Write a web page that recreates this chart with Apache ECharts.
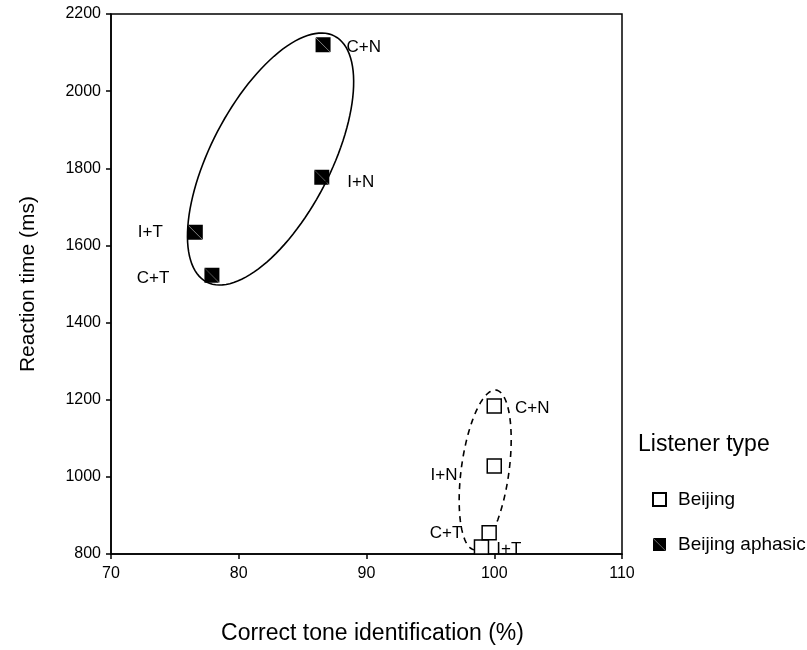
<!DOCTYPE html>
<html>
<head>
<meta charset="utf-8">
<script src="https://cdn.jsdelivr.net/npm/echarts@6/dist/echarts.min.js"></script>
<style>
  html, body { margin: 0; padding: 0; background: #fff; }
  #chart { width: 807px; height: 650px; }
</style>
</head>
<body>
<div id="chart"></div>
<script>
// Tone identification accuracy (%) vs reaction time (ms) per condition
var conditions = ['C+N', 'I+N', 'I+T', 'C+T'];

var beijingAccuracy = [100, 100, 99.0, 99.6];
var beijingRT       = [1184, 1028, 818, 855];

var aphasicAccuracy = [86.6, 86.5, 76.6, 77.9];
var aphasicRT       = [2120, 1777, 1634, 1523];

var xTicks = [70, 80, 90, 100, 110];
var yTicks = [800, 1000, 1200, 1400, 1600, 1800, 2000, 2200];

// Group outlines: centre, then two semi-axis vectors, all in data units
var aphasicOutline = [82.49, 1824, 5.01, 318.7, 4.15, -71.5];
var beijingOutline = [99.29, 1018, 0.85, 207, 1.85, -8.3];

var FONT = 'Liberation Sans, Arial, sans-serif';

// filled square split by a hairline diagonal
var FILLED_SQUARE = 'path://M0,0 L20,0 L20,20 Z M0,0.6 L0,20 L19.4,20 Z';

// label placement per condition for each group: [side, distance, dy]
var beijingLabelPlace = {
  'C+N': ['right', 13, 2],
  'I+N': ['left', 29, 9],
  'I+T': ['right', 7, 2],
  'C+T': ['left', 19, 1]
};
var aphasicLabelPlace = {
  'C+N': ['right', 16, 2],
  'I+N': ['right', 18, 5],
  'I+T': ['left', 25, 0],
  'C+T': ['left', 35, 3]
};

function buildPoints(xs, ys, place) {
  return conditions.map(function (c, i) {
    var p = place[c];
    return {
      name: c,
      value: [xs[i], ys[i]],
      label: { position: p[0], distance: p[1], offset: [0, p[2]] }
    };
  });
}

function outlineSeries(spec, dashed) {
  return {
    type: 'custom',
    silent: true,
    z: 1,
    data: [spec],
    encode: { x: 0, y: 1 },
    renderItem: function (params, api) {
      var cx = api.value(0), cy = api.value(1);
      var ux = api.value(2), uy = api.value(3);
      var vx = api.value(4), vy = api.value(5);
      var pts = [];
      var n = 120;
      for (var k = 0; k < n; k++) {
        var t = 2 * Math.PI * k / n;
        pts.push(api.coord([
          cx + ux * Math.cos(t) + vx * Math.sin(t),
          cy + uy * Math.cos(t) + vy * Math.sin(t)
        ]));
      }
      return {
        type: 'polygon',
        shape: { points: pts },
        style: {
          fill: 'none',
          stroke: '#000',
          lineWidth: 1.6,
          lineDash: dashed ? [6, 5] : null
        }
      };
    }
  };
}

var chart = echarts.init(document.getElementById('chart'), null, { renderer: 'canvas' });

var pointLabel = {
  show: true,
  formatter: '{b}',
  color: '#000',
  opacity: 1,
  fontFamily: FONT,
  fontSize: 17
};

chart.setOption({
  animation: false,
  backgroundColor: '#fff',
  textStyle: { fontFamily: FONT },
  grid: {
    left: 111, right: 185, top: 14, bottom: 96,
    show: true, borderColor: '#000', borderWidth: 1.5, backgroundColor: 'transparent'
  },
  xAxis: {
    type: 'value',
    min: xTicks[0], max: xTicks[xTicks.length - 1], interval: 10,
    name: 'Correct tone identification (%)',
    nameLocation: 'middle', nameGap: 68,
    nameTextStyle: { color: '#000', fontSize: 23, fontFamily: FONT, padding: [0, 0, 0, 12] },
    axisLine: { lineStyle: { color: '#000', width: 1.5 } },
    axisTick: { show: true, length: 5, lineStyle: { color: '#000', width: 1.5 } },
    axisLabel: { color: '#000', fontSize: 16, margin: 12, fontFamily: FONT,
      formatter: function (v) { return String(v); } },
    splitLine: { show: false }
  },
  yAxis: {
    type: 'value',
    min: yTicks[0], max: yTicks[yTicks.length - 1], interval: 200,
    name: 'Reaction time (ms)',
    nameLocation: 'middle', nameGap: 72, nameRotate: 90,
    nameTextStyle: { color: '#000', fontSize: 21, fontFamily: FONT },
    axisLine: { lineStyle: { color: '#000', width: 1.5 } },
    axisTick: { show: true, length: 5, lineStyle: { color: '#000', width: 1.5 } },
    axisLabel: { color: '#000', fontSize: 16, margin: 10, fontFamily: FONT,
      formatter: function (v) { return String(v); } },
    splitLine: { show: false }
  },
  legend: {
    orient: 'vertical',
    left: 647, top: 485,
    itemWidth: 13, itemHeight: 13, itemGap: 26,
    textStyle: { color: '#000', fontSize: 19, fontFamily: FONT, padding: [0, 0, 0, 7] },
    data: [
      { name: 'Beijing', icon: 'rect' },
      { name: 'Beijing aphasic', icon: FILLED_SQUARE }
    ]
  },
  graphic: [{
    type: 'text',
    x: 638, y: 445,
    style: { text: 'Listener type', fill: '#000', fontSize: 23, fontFamily: FONT,
      textAlign: 'left', textVerticalAlign: 'middle' }
  }],
  series: [
    outlineSeries(aphasicOutline, false),
    outlineSeries(beijingOutline, true),
    {
      name: 'Beijing',
      type: 'scatter',
      symbol: 'rect',
      symbolSize: 14,
      z: 3,
      itemStyle: { color: '#fff', borderColor: '#000', borderWidth: 1.5, opacity: 1 },
      label: pointLabel,
      data: buildPoints(beijingAccuracy, beijingRT, beijingLabelPlace)
    },
    {
      name: 'Beijing aphasic',
      type: 'scatter',
      symbol: FILLED_SQUARE,
      symbolSize: 15,
      z: 3,
      itemStyle: { color: '#000', opacity: 1 },
      label: pointLabel,
      data: buildPoints(aphasicAccuracy, aphasicRT, aphasicLabelPlace)
    }
  ]
});
</script>
</body>
</html>
